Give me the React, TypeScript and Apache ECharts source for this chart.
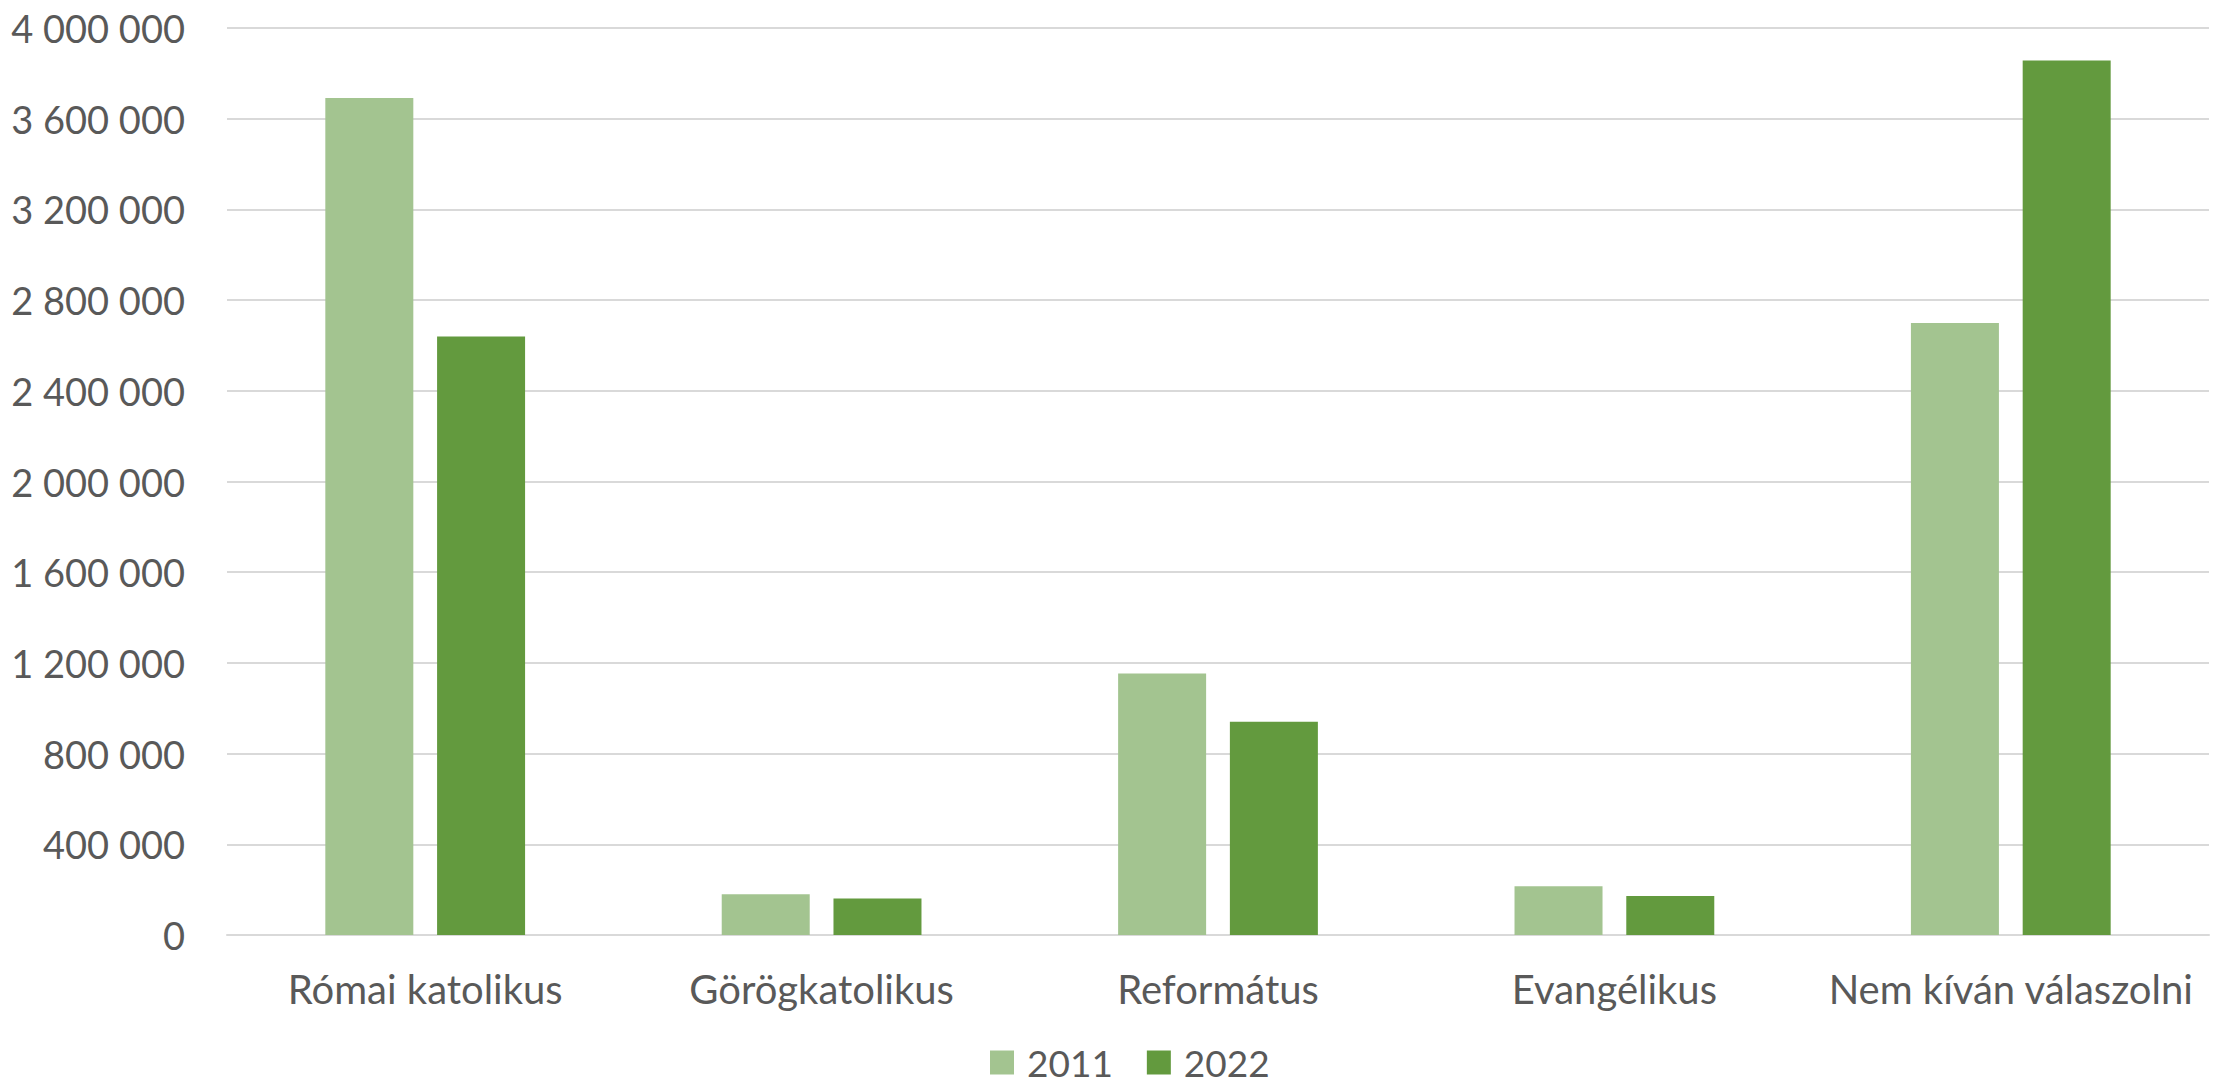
import React, { useEffect, useRef } from "react";
import * as echarts from "echarts";

const categories = ["Római katolikus", "Görögkatolikus", "Református", "Evangélikus", "Nem kíván válaszolni"];
const series2011 = [3691389, 179176, 1153454, 215093, 2698844];
const series2022 = [2640000, 161000, 940000, 172000, 3857000];
const seriesNames = ["2011", "2022"];
const yTicks = { min: 0, max: 4000000, interval: 400000 };

const fmt = (v: number) => String(Math.round(v)).replace(/\B(?=(\d{3})+(?!\d))/g, " ");

export default function App() {
  const ref = useRef<HTMLDivElement>(null);
  useEffect(() => {
    if (!ref.current) return;
    const chart = echarts.init(ref.current, null, { renderer: "svg" });
    const textColor = "#595959";
    const font = "Lato";
    chart.setOption({
      animation: false,
      backgroundColor: "#ffffff",
      grid: { left: 227, right: 6, top: 28, bottom: 149, containLabel: false },
      legend: {
        data: seriesNames,
        top: 1044,
        left: 990,
        padding: 0,
        itemWidth: 24,
        itemHeight: 24,
        itemGap: 34,
        icon: "rect",
        textStyle: { color: textColor, fontFamily: font, fontSize: 37, lineHeight: 36, padding: [0, 0, 0, 8] },
      },
      xAxis: {
        type: "category",
        data: categories,
        axisLine: { show: true, lineStyle: { color: "#D9D9D9", width: 2 } },
        axisTick: { show: false },
        axisLabel: { color: textColor, fontFamily: font, fontSize: 40, margin: 34, interval: 0 },
      },
      yAxis: {
        type: "value",
        min: yTicks.min,
        max: yTicks.max,
        interval: yTicks.interval,
        axisLine: { show: false },
        axisTick: { show: false },
        splitLine: { lineStyle: { color: "#D9D9D9", width: 2 } },
        axisLabel: { color: textColor, fontFamily: font, fontSize: 38, margin: 42, formatter: fmt },
      },
      series: [
        {
          name: seriesNames[0],
          type: "bar",
          data: series2011,
          barWidth: 88,
          barGap: "27%",
          itemStyle: { color: "#A3C490" },
        },
        {
          name: seriesNames[1],
          type: "bar",
          data: series2022,
          barWidth: 88,
          itemStyle: { color: "#639A3E" },
        },
      ],
    });
    return () => chart.dispose();
  }, []);
  return (
    <div
      ref={ref}
      style={{ position: "absolute", left: 0, top: 0, width: 2215, height: 1084, background: "#fff" }}
    />
  );
}
